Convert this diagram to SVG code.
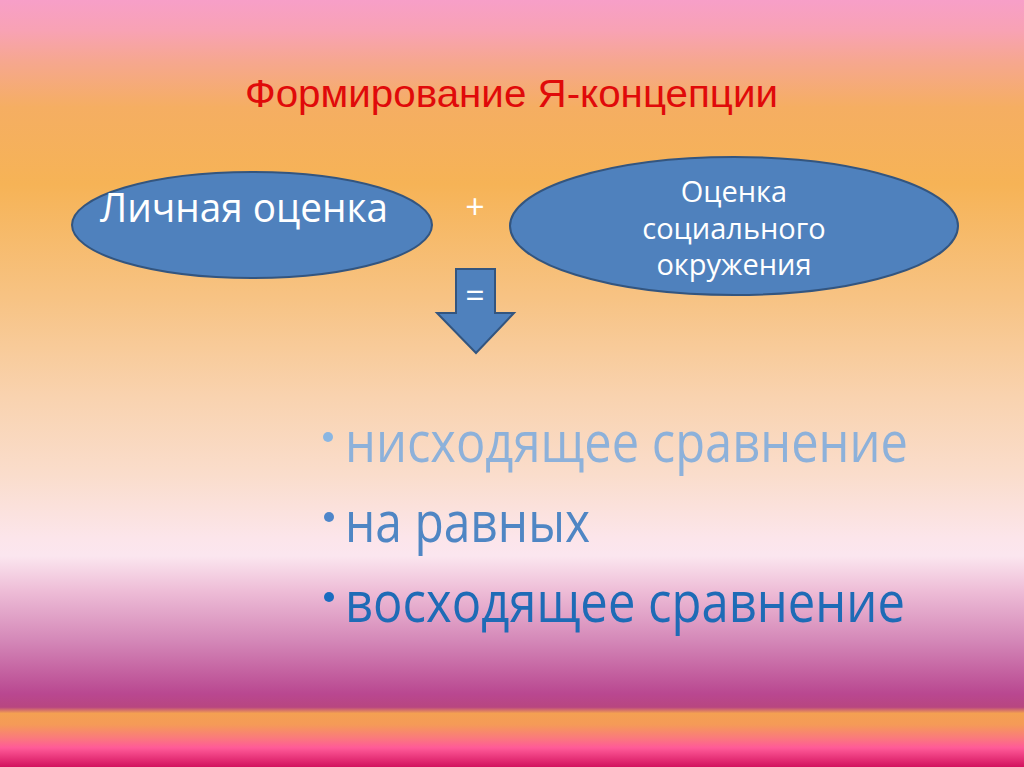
<svg xmlns="http://www.w3.org/2000/svg" width="1024" height="767" viewBox="0 0 1024 767">
<defs>
<linearGradient id="bg" x1="0" y1="0" x2="0" y2="767" gradientUnits="userSpaceOnUse">
<stop offset="0" stop-color="#F79FC8"/>
<stop offset="0.04" stop-color="#F8A2B4"/>
<stop offset="0.08" stop-color="#F6A78F"/>
<stop offset="0.14" stop-color="#F5AE62"/>
<stop offset="0.24" stop-color="#F6B356"/>
<stop offset="0.39" stop-color="#F7C384"/>
<stop offset="0.52" stop-color="#F9D3B0"/>
<stop offset="0.62" stop-color="#FADDCC"/>
<stop offset="0.70" stop-color="#FCE5EA"/>
<stop offset="0.725" stop-color="#FBE6EF"/>
<stop offset="0.77" stop-color="#EEBDD7"/>
<stop offset="0.835" stop-color="#D488B8"/>
<stop offset="0.905" stop-color="#B94790"/>
<stop offset="0.922" stop-color="#B84680"/>
<stop offset="0.93" stop-color="#F4A052"/>
<stop offset="0.945" stop-color="#F59A58"/>
<stop offset="0.962" stop-color="#FA7A7C"/>
<stop offset="0.975" stop-color="#FF5A98"/>
<stop offset="1" stop-color="#D2125E"/>
</linearGradient>
<style>
.shape{fill:#4F81BD;stroke:#33557F;stroke-width:2}
.wt{fill:#FFFFFF;font-family:"Open Sans","DejaVu Sans",sans-serif}
.bul{font-family:"Open Sans","DejaVu Sans",sans-serif;font-size:56px}
</style>
</defs>
<rect x="0" y="0" width="1024" height="767" fill="url(#bg)"/>
<g id="title">
<text x="245" y="107" font-family="Liberation Sans, Arial, sans-serif" font-size="39" fill="#E00A0A" textLength="533" lengthAdjust="spacingAndGlyphs">Формирование Я-концепции</text>
</g>
<g id="node-personal">
<ellipse class="shape" cx="252" cy="225" rx="180" ry="53"/>
<text class="wt" x="100" y="222" font-size="41" textLength="288" lengthAdjust="spacingAndGlyphs">Личная оценка</text>
</g>
<g id="node-social">
<ellipse class="shape" cx="734" cy="226" rx="224" ry="69"/>
<text class="wt" x="734" y="202" font-size="29" text-anchor="middle">Оценка</text>
<text class="wt" x="734" y="239" font-size="29" text-anchor="middle">социального</text>
<text class="wt" x="734" y="275" font-size="29" text-anchor="middle">окружения</text>
</g>
<g id="connectors">
<text class="wt" x="475" y="219" font-size="34" text-anchor="middle">+</text>
<path class="shape" d="M456,269 L495,269 L495,313 L514,313 L476,353 L437,313 L456,313 Z"/>
<text class="wt" x="475" y="308" font-size="34" text-anchor="middle">=</text>
</g>
<g id="list">
<circle cx="328" cy="437" r="5" fill="#8AB6E2"/>
<text class="bul" x="345" y="462" fill="#8DB1DA" textLength="563" lengthAdjust="spacingAndGlyphs">нисходящее сравнение</text>
<circle cx="329" cy="517" r="5" fill="#4E86CA"/>
<text class="bul" x="345" y="542" fill="#4F86C4" textLength="245" lengthAdjust="spacingAndGlyphs">на равных</text>
<circle cx="329" cy="597" r="5" fill="#1A6CC0"/>
<text class="bul" x="345" y="622" fill="#1E6BB6" textLength="560" lengthAdjust="spacingAndGlyphs">восходящее сравнение</text>
</g>
</svg>
